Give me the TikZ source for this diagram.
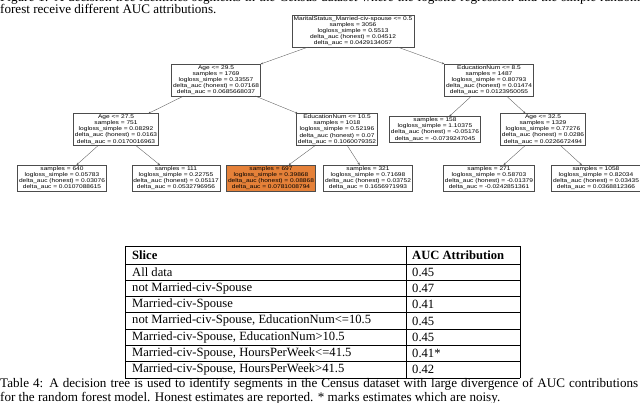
\documentclass[tikz,border=0pt]{standalone}
\usepackage{fontspec}
\setmainfont{Liberation Serif}
\newfontfamily\treefont[FakeStretch=1.22]{Liberation Sans}
\usetikzlibrary{arrows.meta}
\definecolor{treeorange}{HTML}{E58139}
\definecolor{edgegray}{gray}{0.35}
\definecolor{boxgray}{gray}{0.3}
\begin{document}
\begin{tikzpicture}[x=1pt,y=-1pt,
  tn/.style={draw=boxgray, line width=0.4pt, fill=white, align=center,
    font=\treefont\fontsize{5.4}{6.1}\selectfont, inner xsep=1.5pt, inner ysep=1.2pt},
  leaforange/.style={tn, fill=treeorange},
  edge/.style={draw=edgegray, line width=0.35pt, -{Stealth[length=2.4pt,width=2pt]}},
  capt/.style={inner sep=0pt, font=\fontsize{13.1}{14}\selectfont},
  cell/.style={inner sep=0pt, anchor=west, font=\fontsize{12.6}{14}\selectfont},
  hcell/.style={cell, font=\fontsize{12.6}{14}\selectfont\bfseries},
  rule/.style={draw=black, line width=0.6pt}]
\useasboundingbox (0,0) rectangle (640,403);
\clip (0,0) rectangle (640,403);

% top caption (partly cut off)
\node[capt, anchor=base west] (cap1) at (0,2) {\makebox[640pt][s]{Figure 1: A decision tree identifies segments in the Census dataset where the logistic regression and the simple random}};
\node[capt, anchor=base west] (cap2) at (0,14) {forest receive different AUC attributions.};

% tree
\node[tn] (root) at (353,31) {MaritalStatus\_Married-civ-spouse <= 0.5\\samples = 3056\\logloss\_simple = 0.5513\\delta\_auc (honest) = 0.04512\\delta\_auc = 0.0429134057};
\node[tn] (a295) at (216,80) {Age <= 29.5\\samples = 1769\\logloss\_simple = 0.33557\\delta\_auc (honest) = 0.07168\\delta\_auc = 0.0685668037};
\node[tn] (e85) at (489,80) {EducationNum <= 8.5\\samples = 1487\\logloss\_simple = 0.80793\\delta\_auc (honest) = 0.01474\\delta\_auc = 0.0123950055};
\node[tn] (a275) at (116,129.5) {Age <= 27.5\\samples = 751\\logloss\_simple = 0.08292\\delta\_auc (honest) = 0.0163\\delta\_auc = 0.0170016963};
\node[tn] (e105) at (337,129.5) {EducationNum <= 10.5\\samples = 1018\\logloss\_simple = 0.52196\\delta\_auc (honest) = 0.07\\delta\_auc = 0.1060079352};
\node[tn] (l158) at (435,129.5) {samples = 158\\logloss\_simple = 1.10375\\delta\_auc (honest) = -0.05176\\delta\_auc = -0.0739247045};
\node[tn] (a325) at (543,129.5) {Age <= 32.5\\samples = 1329\\logloss\_simple = 0.77276\\delta\_auc (honest) = 0.0286\\delta\_auc = 0.0226672494};
\node[tn] (l640) at (62,178) {samples = 640\\logloss\_simple = 0.05783\\delta\_auc (honest) = 0.03076\\delta\_auc = 0.0107088615};
\node[tn] (l111) at (176,178) {samples = 111\\logloss\_simple = 0.22755\\delta\_auc (honest) = 0.05117\\delta\_auc = 0.0532796956};
\node[leaforange] (l697) at (271,178) {samples = 697\\logloss\_simple = 0.39868\\delta\_auc (honest) = 0.08868\\delta\_auc = 0.0781008794};
\node[tn] (l321) at (368,178) {samples = 321\\logloss\_simple = 0.71698\\delta\_auc (honest) = 0.03752\\delta\_auc = 0.1656971993};
\node[tn] (l271) at (489,178) {samples = 271\\logloss\_simple = 0.58703\\delta\_auc (honest) = -0.01379\\delta\_auc = -0.0242851361};
\node[tn] (l1058) at (596,178) {samples = 1058\\logloss\_simple = 0.82034\\delta\_auc (honest) = 0.03435\\delta\_auc = 0.0368812366};

\draw[edge] (root) -- (a295);
\draw[edge] (root) -- (e85);
\draw[edge] (a295) -- (a275);
\draw[edge] (a295) -- (e105);
\draw[edge] (e85) -- (l158);
\draw[edge] (e85) -- (a325);
\draw[edge] (a275) -- (l640);
\draw[edge] (a275) -- (l111);
\draw[edge] (e105) -- (l697);
\draw[edge] (e105) -- (l321);
\draw[edge] (a325) -- (l271);
\draw[edge] (a325) -- (l1058);

% table
\foreach \yy in {246,264,280.3,296.5,312.8,329,345.3,361.5,377.8}
  \draw[rule] (125,\yy) -- (520,\yy);
\foreach \xx in {125,406,520}
  \draw[rule] (\xx,246) -- (\xx,377.8);

\node[hcell] (h1) at (132,255) {Slice};
\node[hcell] (h2) at (412,255) {AUC Attribution};
\node[cell] (r1) at (132,272.2) {All data};
\node[cell] (v1) at (412,272.2) {0.45};
\node[cell] (r2) at (132,288.4) {not Married-civ-Spouse};
\node[cell] (v2) at (412,288.4) {0.47};
\node[cell] (r3) at (132,304.7) {Married-civ-Spouse};
\node[cell] (v3) at (412,304.7) {0.41};
\node[cell] (r4) at (132,320.9) {not Married-civ-Spouse, EducationNum<=10.5};
\node[cell] (v4) at (412,320.9) {0.45};
\node[cell] (r5) at (132,337.2) {Married-civ-Spouse, EducationNum>10.5};
\node[cell] (v5) at (412,337.2) {0.45};
\node[cell] (r6) at (132,353.4) {Married-civ-Spouse, HoursPerWeek<=41.5};
\node[cell] (v6) at (412,353.4) {0.41*};
\node[cell] (r7) at (132,369.7) {Married-civ-Spouse, HoursPerWeek>41.5};
\node[cell] (v7) at (412,369.7) {0.42};

% bottom caption
\node[capt, anchor=base west] (cap3) at (0,387) {\makebox[638pt][s]{Table 4: A decision tree is used to identify segments in the Census dataset with large divergence of AUC contributions}};
\node[capt, anchor=base west] (cap4) at (0,401) {for the random forest model. Honest estimates are reported. * marks estimates which are noisy.};
\end{tikzpicture}
\end{document}
